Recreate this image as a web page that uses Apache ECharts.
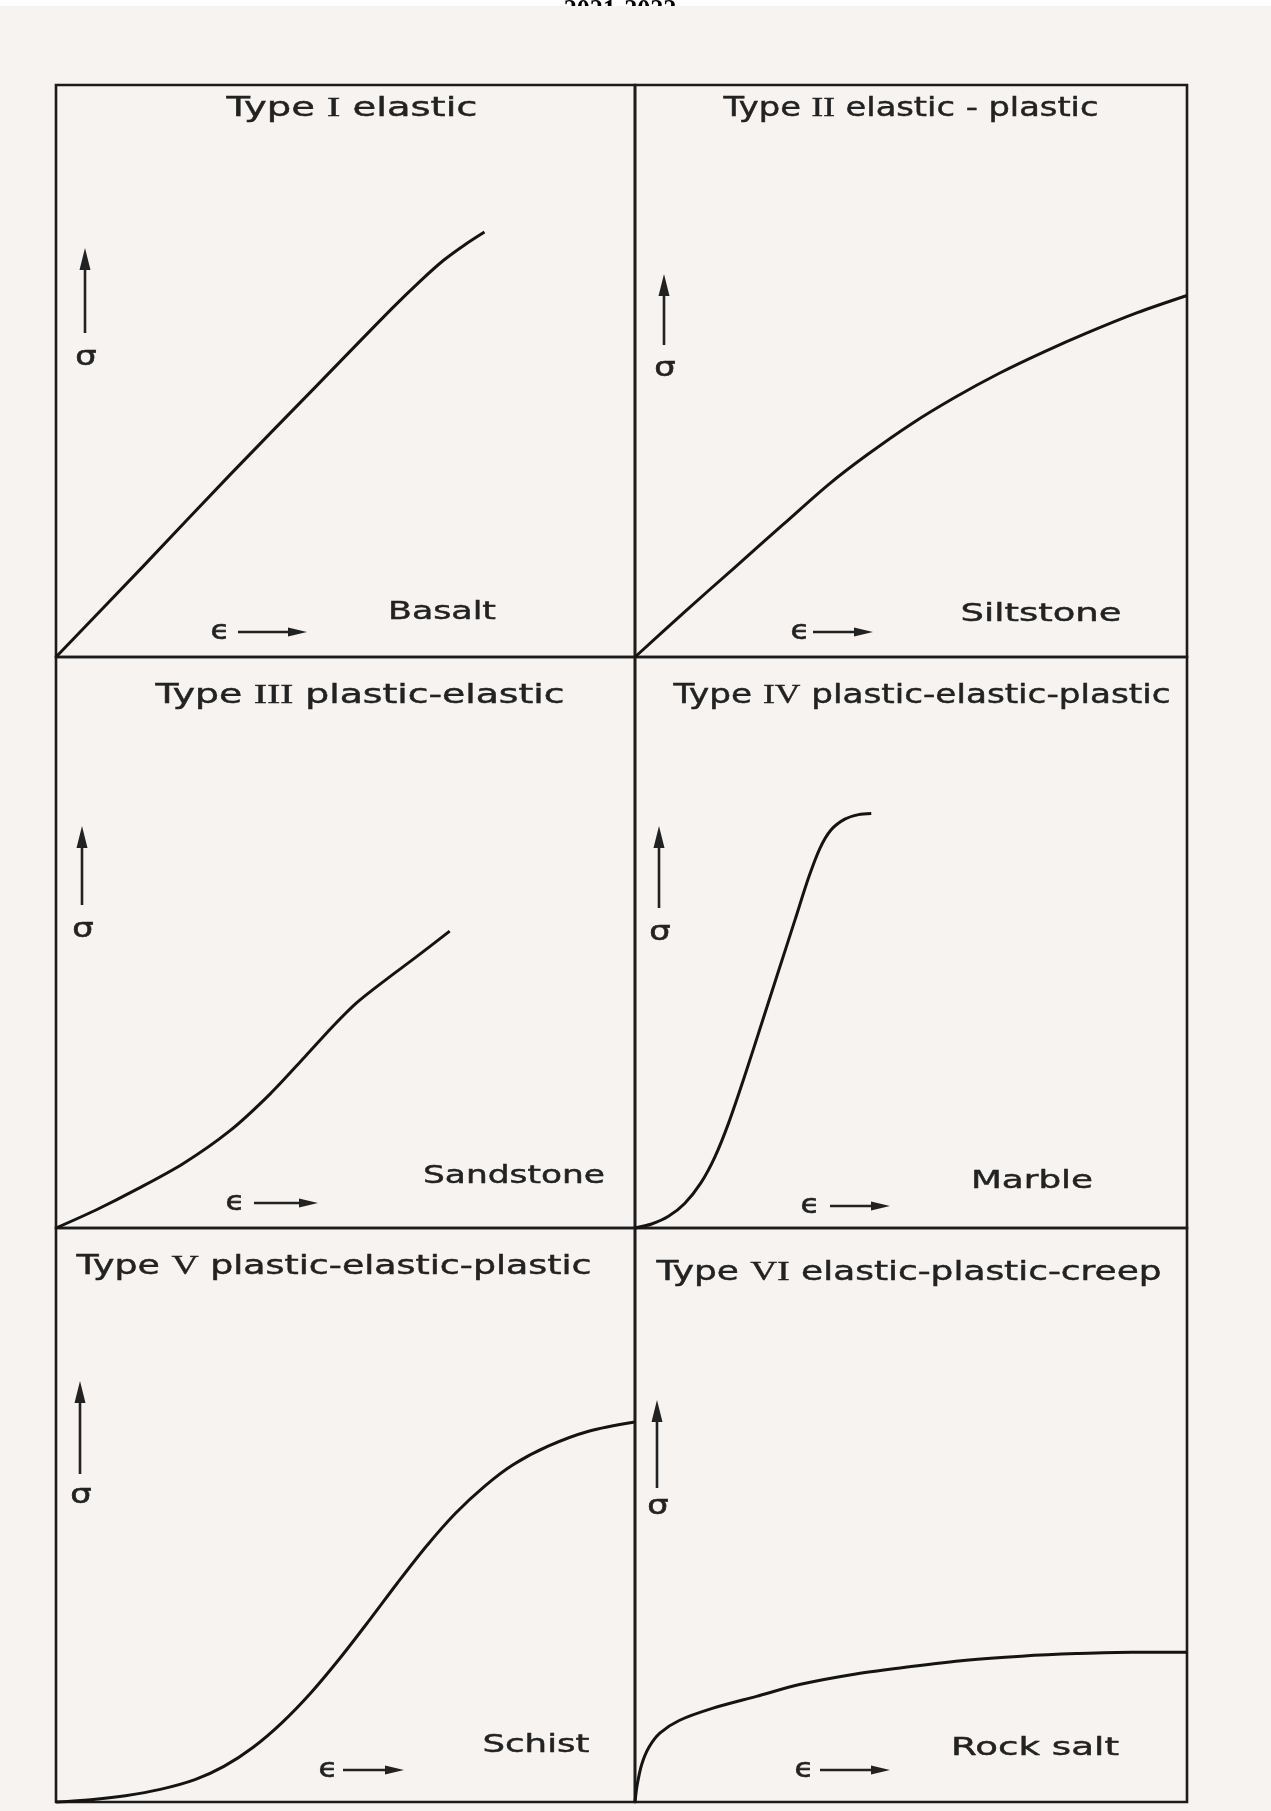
<!DOCTYPE html>
<html><head><meta charset="utf-8">
<script src="https://cdn.jsdelivr.net/npm/echarts@6/dist/echarts.min.js"></script>
<style>html,body{margin:0;padding:0;background:#ffffff}#c{width:1271px;height:1811px}</style>
</head><body><div id="c"></div>
<script>
// ---- data (panel-relative units: strain 0..100, stress 0..100) ----
const numerals = ['I', 'II', 'III', 'IV', 'V', 'VI'];
const typeNames = ['elastic', 'elastic - plastic', 'plastic-elastic', 'plastic-elastic-plastic', 'plastic-elastic-plastic', 'elastic-plastic-creep'];
const rockNames = ['Basalt', 'Siltstone', 'Sandstone', 'Marble', 'Schist', 'Rock salt'];
const basalt = [[0,0],[15,15.8],[30,31.8],[45,47.4],[58,60.9],[63,65.8],[67,69.4],[70.5,72],[74,74.3]];
const siltstone = [[0,0],[9,7.9],[18,15.6],[27,23.3],[35,30.1],[42,35.3],[50,40.7],[58,45.4],[66,49.6],[74,53.3],[82,56.7],[91,60.2],[100,63.2]];
const sandstone = [[0,0],[7,3.2],[14,6.8],[22,11.3],[30,17],[37,23.5],[43,30],[48,35.5],[52,39.5],[57,43.5],[62,47.3],[68,52]];
const marble = [[0,0],[3,0.7],[6,2],[9,4.3],[12,8],[14.5,12.5],[17,18.5],[20,27],[23,36],[26,45],[29,54],[31.5,61.5],[33.5,66.5],[35.5,69.7],[38,71.6],[40.5,72.4],[42.8,72.6]];
const schist = [[0,0],[6,0.4],[12,1.1],[18,2.2],[24,3.9],[29,6.2],[34,9.5],[39,13.8],[44,19],[49,25],[54,31.5],[59,38.2],[64,44.6],[69,50.3],[74,55],[79,58.8],[85,62],[92,64.6],[100,66.2]];
const rocksalt = [[0,0],[0.4,3],[1.2,6.5],[2.5,9.5],[4.5,12],[8,14.2],[14,16.3],[22,18.4],[30,20.5],[40,22.3],[50,23.6],[60,24.7],[70,25.4],[80,25.85],[90,26.1],[100,26.1]];
const curves = [basalt, siltstone, sandstone, marble, schist, rocksalt];

// ---- layout ----
const grids = [
  {left:56, top:85, width:579, height:572},
  {left:635, top:85, width:552, height:572},
  {left:56, top:657, width:579, height:571},
  {left:635, top:657, width:552, height:571},
  {left:56, top:1228, width:579, height:574},
  {left:635, top:1228, width:552, height:574}
];
// [centerX, centerY, targetWidth]
const titlePos = [[352,109,251],[911,109,375],[360,696,409],[922,696,497],[334,1267,515],[909,1273,505]];
const namePos = [[442,612,108],[1041,614,161],[514,1176,182],[1032,1181,122],[536,1745,107],[1035,1748,168]];
// sigma arrow: x, tipY, bottomY, sigmaY
const sigPos = [[85,248,333,358],[664,274,345,369],[82,826,905,930],[659,826,908,933],[80,1381,1474,1496],[657,1400,1488,1507]];
// epsilon arrow: epsX, y, arrowStart, arrowEnd
const epsPos = [[220,632,238,307],[800,632,813,873],[235,1203,254,318],[810,1206,830,890],[328,1770,343,404],[804,1770,820,890]];

const INK = '#222';
const SANS = '"DejaVu Sans", sans-serif';
const SERIF = '"Liberation Serif", "DejaVu Serif", serif';
const TFONT = '26px ' + SANS, NFONT = '27px ' + SERIF, RFONT = '25px ' + SANS;

const mctx = document.createElement('canvas').getContext('2d');
function mw(t, f) { mctx.font = f; return mctx.measureText(t).width; }

const chart = echarts.init(document.getElementById('c'), null, {renderer:'canvas'});

const graphic = [];
// header text, partly covered by the page
graphic.push({type:'text', x:620, y:-3, z:0, style:{text:'2021-2022', align:'center', verticalAlign:'top', font:'bold 26px ' + SERIF, fill:'#000'}});
graphic.push({type:'rect', shape:{x:0, y:6, width:1271, height:1805}, z:0, style:{fill:'#f6f3f0'}});
for (let i = 0; i < 6; i++) {
  const rest = ' ' + typeNames[i];
  const w = mw('Type ', TFONT) + mw(numerals[i], NFONT) + mw(rest, TFONT);
  graphic.push({type:'text', x:titlePos[i][0], y:titlePos[i][1], z:10, scaleX: titlePos[i][2] / w, style:{
    text:'{a|Type }{n|' + numerals[i] + '}{a|' + rest + '}',
    align:'center', verticalAlign:'middle', fill:INK,
    rich:{a:{font:TFONT, fill:INK, stroke:INK, lineWidth:0.45}, n:{font:NFONT, fill:INK, stroke:INK, lineWidth:0.4}}
  }});
  graphic.push({type:'text', x:namePos[i][0], y:namePos[i][1], z:10, scaleX: namePos[i][2] / mw(rockNames[i], RFONT), style:{
    text:rockNames[i], align:'center', verticalAlign:'middle', font:RFONT, fill:INK, stroke:INK, lineWidth:0.45}});
  const s = sigPos[i];
  graphic.push({type:'line', z:10, shape:{x1:s[0], y1:s[1]+12, x2:s[0], y2:s[2]}, style:{stroke:INK, lineWidth:2.6}});
  graphic.push({type:'polygon', z:10, shape:{points:[[s[0]-5.5,s[1]+22],[s[0],s[1]],[s[0]+5.5,s[1]+22]]}, style:{fill:INK}});
  graphic.push({type:'text', x:s[0]+1, y:s[3], z:10, scaleX:1.25, style:{
    text:'σ', align:'center', verticalAlign:'middle', font:'27px ' + SANS, fill:INK, stroke:INK, lineWidth:0.6}});
  const e = epsPos[i];
  graphic.push({type:'text', x:e[0], y:e[1], z:10, scaleX:1.2, style:{text:'ϵ', align:'center', verticalAlign:'middle', font:'26px ' + SANS, fill:INK, stroke:INK, lineWidth:0.6}});
  graphic.push({type:'line', z:10, shape:{x1:e[2], y1:e[1], x2:e[3]-12, y2:e[1]}, style:{stroke:INK, lineWidth:2.4}});
  graphic.push({type:'polygon', z:10, shape:{points:[[e[3]-19,e[1]-4.5],[e[3],e[1]],[e[3]-19,e[1]+4.5]]}, style:{fill:INK}});
}

const option = {
  backgroundColor:'#ffffff',
  animation:false,
  grid: grids.map(g => Object.assign({show:true, z:5, borderColor:'#1c1c1c', borderWidth:2.6, backgroundColor:'transparent', containLabel:false}, g)),
  xAxis: grids.map((g, i) => ({type:'value', gridIndex:i, min:0, max:100, show:false})),
  yAxis: grids.map((g, i) => ({type:'value', gridIndex:i, min:0, max:100, show:false})),
  series: curves.map((c, i) => ({
    type:'line', xAxisIndex:i, yAxisIndex:i, data:c, smooth:0.3, showSymbol:false, clip:false, z:8,
    lineStyle:{color:'#141414', width:3}
  })),
  graphic: graphic
};
chart.setOption(option);
</script></body></html>
